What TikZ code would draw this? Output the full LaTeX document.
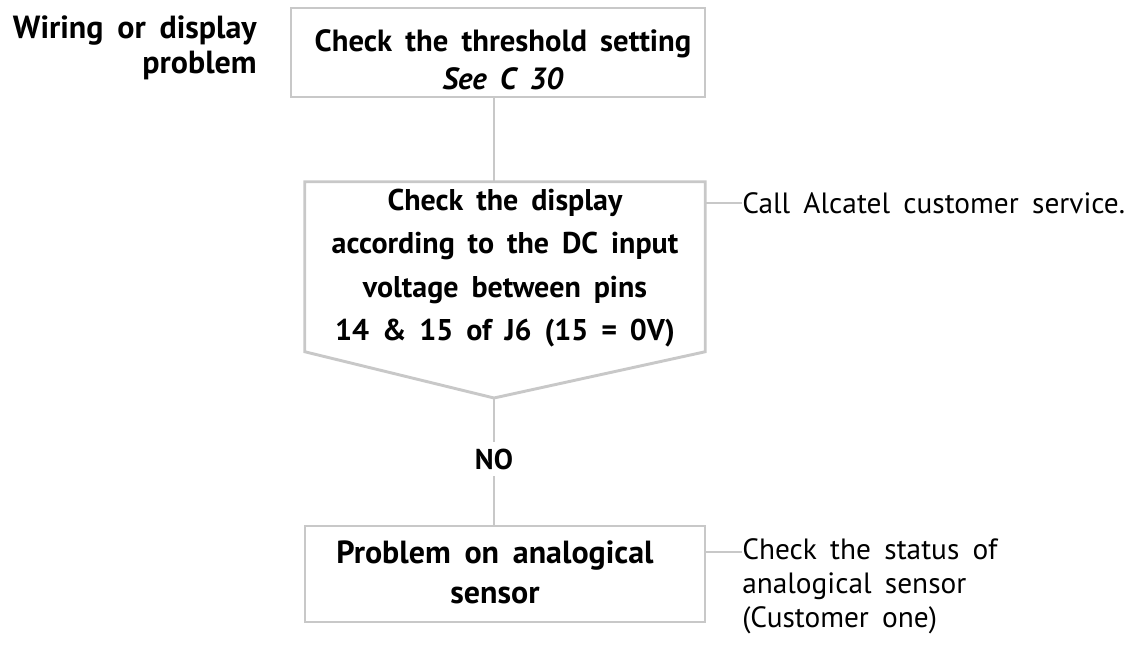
\documentclass[tikz,border=0pt]{standalone}
\usepackage{fontspec}
\setmainfont{PT Sans}[WordSpace=1.7]
\definecolor{lgray}{RGB}{200,200,200}
\tikzset{
  gline/.style={draw=lgray, line width=2.2pt},
  box/.style={draw=lgray, line width=2.2pt, rectangle, inner sep=0pt},
  bt/.style={font=\bfseries\fontsize{22.5}{32.5}\selectfont, align=center, inner sep=0pt},
  rt/.style={font=\fontsize{22}{25.5}\selectfont, align=left, inner sep=0pt},
  lt/.style={font=\bfseries\fontsize{24}{26.5}\selectfont, align=right, inner sep=0pt}
}
\begin{document}
\begin{tikzpicture}[x=0.75pt,y=-0.75pt]
\useasboundingbox (0,0) rectangle (1130,645);
% left label
\node[lt, anchor=east] (lbl) at (257,48) {Wiring or display\\problem};
% top box
\node[box, minimum width=310.5pt, minimum height=66.75pt] (top) at (498,52.5) {};
\node[bt, font=\bfseries\fontsize{23}{28.5}\selectfont] (topT) at (503,60) {Check the threshold setting\\\textit{See C 30}};
% display pentagon
\node[minimum width=300pt, minimum height=162pt, inner sep=0pt] (disp) at (505,290) {};
\coordinate (tip) at (494,398);
\draw[gline, line join=miter] (disp.north west) -- (disp.north east) -- ([yshift=-127.5pt]disp.north east) -- (tip) -- ([yshift=-127.5pt]disp.north west) -- cycle;
\node[bt] (dispT) at (505,268) {Check the display\\according to the DC input\\voltage between pins\\14 \& 15 of J6 (15 = 0V)};
% NO label
\node[bt, font=\bfseries\fontsize{21.5}{26}\selectfont, inner sep=5pt] (no) at (494,459) {NO};
% bottom box
\node[box, minimum width=300pt, minimum height=72pt] (bot) at (505,574) {};
\node[bt, font=\bfseries\fontsize{24}{30}\selectfont] (botT) at (495,572) {Problem on analogical\\sensor};
% right labels
\node[rt, anchor=west] (call) at (742,203) {Call Alcatel customer service.};
\node[rt, anchor=west] (chk) at (742,586) {Check the status of\\analogical sensor\\(Customer one)};
\coordinate (chkc) at (742,552);
% connectors
\draw[gline] (top.south -| tip) -- (disp.north -| tip);
\draw[gline] (tip) -- (no.north);
\draw[gline] (no.south) -- (bot.north -| tip);
\draw[gline] (disp.east |- call.west) -- (call.west);
\draw[gline] (bot.east |- chkc) -- (chkc);
\end{tikzpicture}
\end{document}
